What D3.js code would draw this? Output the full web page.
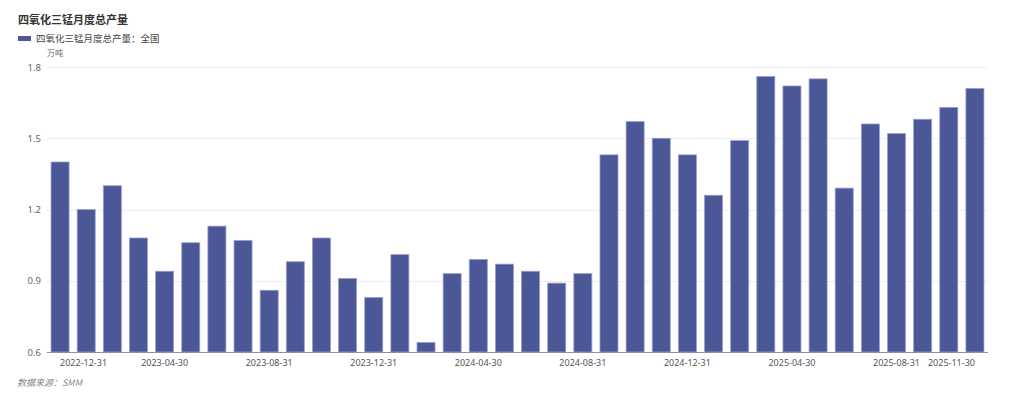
<!DOCTYPE html>
<html>
<head>
<meta charset="utf-8">
<script src="https://cdn.jsdelivr.net/npm/d3@7"></script>
<style>
  body { margin: 0; background: #fff; }
  svg { display: block; font-family: "Noto Sans CJK SC", "Noto Sans", sans-serif; }
</style>
</head>
<body>
<svg id="chart" width="1024" height="399"></svg>
<script>
// month ends, 2022-12 .. 2025-11
var months = [
  "2022-12-31","2023-01-31","2023-02-28","2023-03-31","2023-04-30","2023-05-31",
  "2023-06-30","2023-07-31","2023-08-31","2023-09-30","2023-10-31","2023-11-30",
  "2023-12-31","2024-01-31","2024-02-29","2024-03-31","2024-04-30","2024-05-31",
  "2024-06-30","2024-07-31","2024-08-31","2024-09-30","2024-10-31","2024-11-30",
  "2024-12-31","2025-01-31","2025-02-28","2025-03-31","2025-04-30","2025-05-31",
  "2025-06-30","2025-07-31","2025-08-31","2025-09-30","2025-10-31","2025-11-30"
];

// 万吨
var output = [
  1.40, 1.20, 1.30, 1.08, 0.94, 1.06, 1.13, 1.07, 0.86, 0.98, 1.08, 0.91,
  0.83, 1.01, 0.64, 0.93, 0.99, 0.97, 0.94, 0.89, 0.93, 1.43, 1.57, 1.50,
  1.43, 1.26, 1.49, 1.76, 1.72, 1.75, 1.29, 1.56, 1.52, 1.58, 1.63, 1.71
];

var xTickLabels = [
  "2022-12-31","2023-04-30","2023-08-31","2023-12-31","2024-04-30",
  "2024-08-31","2024-12-31","2025-04-30","2025-08-31","2025-11-30"
];

var yTicks = [0.6, 0.9, 1.2, 1.5, 1.8];

var title = "四氧化三锰月度总产量";
var seriesName = "四氧化三锰月度总产量：全国";
var unit = "万吨";
var source = "数据来源：SMM";

var barColor = "#4b5797";

var svg = d3.select("#chart");

var margin = { left: 47, right: 988, top: 67, bottom: 352 };

var x = d3.scaleBand()
  .domain(months)
  .range([margin.left, margin.right])
  .paddingInner(0.31)
  .paddingOuter(0.155);

var y = d3.scaleLinear()
  .domain([0.6, 1.8])
  .range([margin.bottom, margin.top]);

// grid lines
svg.append("g")
  .selectAll("line")
  .data(yTicks.slice(1))
  .join("line")
    .attr("x1", margin.left)
    .attr("x2", margin.right)
    .attr("y1", function(d) { return Math.round(y(d)) + 0.5; })
    .attr("y2", function(d) { return Math.round(y(d)) + 0.5; })
    .attr("stroke", "#eceef2")
    .attr("stroke-width", 1);

// y axis labels
var yAxis = svg.append("g")
  .attr("transform", "translate(" + margin.left + ",0)")
  .call(d3.axisLeft(y).tickValues(yTicks).tickSize(0).tickPadding(6).tickFormat(d3.format(".1f")));
yAxis.select(".domain").remove();
yAxis.selectAll("text")
  .attr("fill", "#666")
  .style("font-size", "9.5px")
  .style("font-family", "'Noto Sans', sans-serif");

// bars
svg.append("g")
  .selectAll("rect")
  .data(output)
  .join("rect")
    .attr("x", function(d, i) { return x(months[i]); })
    .attr("y", function(d) { return y(d); })
    .attr("width", x.bandwidth())
    .attr("height", function(d) { return y(0.6) - y(d); })
    .attr("fill", barColor)
    .attr("stroke", "#9aa1cb")
    .attr("stroke-width", 0.8);

// x axis
var xAxis = svg.append("g")
  .attr("transform", "translate(0," + margin.bottom + ")")
  .call(d3.axisBottom(x).tickValues(xTickLabels).tickSize(0).tickPadding(6));
xAxis.select(".domain")
  .attr("stroke", "#8e93a3")
  .attr("d", "M" + margin.left + ",0.5H" + margin.right);
xAxis.selectAll("text")
  .attr("fill", "#555")
  .style("font-size", "9px")
  .style("font-family", "'Noto Sans', sans-serif")
  .attr("dy", "0.9em")
  .attr("text-anchor", function(d, i) {
    if (i == 0) return "start";
    if (i == xTickLabels.length - 1) return "end";
    return "middle";
  });

// title
svg.append("text")
  .attr("x", 18)
  .attr("y", 24)
  .attr("font-size", "11px")
  .attr("font-weight", "bold")
  .attr("fill", "#333")
  .text(title);

// legend
svg.append("rect")
  .attr("x", 18).attr("y", 36)
  .attr("width", 13).attr("height", 5)
  .attr("fill", barColor);
svg.append("text")
  .attr("x", 36)
  .attr("y", 42)
  .attr("font-size", "9.5px")
  .attr("fill", "#444")
  .text(seriesName);

// unit
svg.append("text")
  .attr("x", 47)
  .attr("y", 56)
  .attr("font-size", "8px")
  .attr("fill", "#666")
  .text(unit);

// source
svg.append("text")
  .attr("x", 17)
  .attr("y", 386)
  .attr("font-size", "9px")
  .attr("font-style", "italic")
  .attr("fill", "#888")
  .text(source);
</script>
</body>
</html>
